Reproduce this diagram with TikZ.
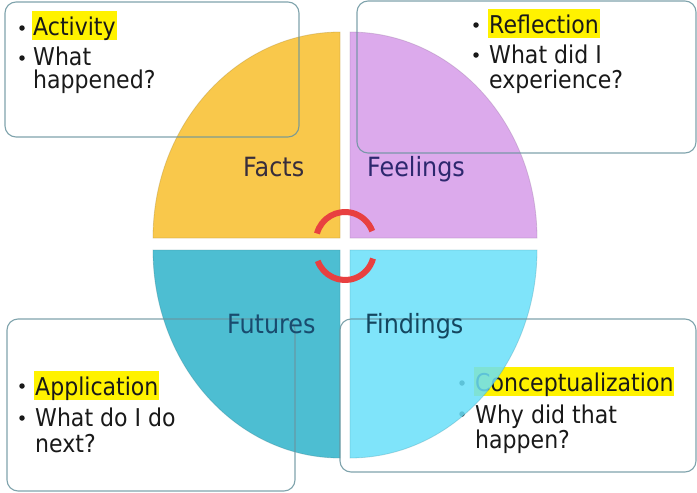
\documentclass[tikz,border=0pt]{standalone}
\usepackage{fontspec}
\setmainfont{DejaVu Sans}[FakeStretch=0.9]
\definecolor{cyel}{RGB}{249,200,75}
\definecolor{cpur}{RGB}{220,170,236}
\definecolor{cteal}{RGB}{77,190,210}
\definecolor{ccyan}{RGB}{105,224,250}
\definecolor{boxline}{RGB}{105,148,158}
\definecolor{txtcol}{RGB}{25,25,25}
\definecolor{arrred}{RGB}{232,64,64}
\definecolor{lfacts}{RGB}{55,45,60}
\definecolor{lfeel}{RGB}{45,40,110}
\definecolor{lfut}{RGB}{25,75,110}
\definecolor{lfind}{RGB}{20,70,95}
\begin{document}
\begin{tikzpicture}[x=1pt,y=-1pt,
  txt/.style={anchor=base west, inner sep=0pt, font=\fontsize{24.5}{28}\selectfont, text=txtcol},
  hl/.style={txt, fill=yellow, inner xsep=1pt, text height=24pt, text depth=5pt},
  lbl/.style={anchor=base west, inner sep=0pt, font=\fontsize{26.5}{30}\selectfont},
  bul/.style={circle, fill=txtcol, inner sep=0pt, minimum size=5.5pt},
  tbox/.style={draw=boxline, line width=1.1pt, rounded corners=11pt, draw opacity=0.85},
  quad/.style={line width=0.8pt, draw opacity=0.35},
  arc/.style={draw=arrred, line width=6pt}]
\useasboundingbox (0,0) rectangle (697,493);
\fill[white] (0,0) rectangle (697,493);

% bottom-right box text (drawn below the translucent cyan quadrant)
\node[bul] (b7) at (462,383) {};
\node[hl] (t7) at (474,391) {Conceptualization};
\node[bul] (b8) at (462,414) {};
\node[txt] (t8) at (475,423) {Why did that};
\node[txt] (t9) at (475,448) {happen?};

% quadrants
\filldraw[quad, fill=cyel, draw=cyel!70!black] (340,238) -- (153,238)
  arc[start angle=180, end angle=270, x radius=187, y radius=206] -- cycle;
\filldraw[quad, fill=cpur, draw=cpur!70!black] (350,238) -- (350,32)
  arc[start angle=270, end angle=360, x radius=187, y radius=206] -- cycle;
\filldraw[quad, fill=cteal, draw=cteal!70!black] (340,250) -- (340,458)
  arc[start angle=90, end angle=180, x radius=187, y radius=208] -- cycle;
\filldraw[quad, fill=ccyan, fill opacity=0.85, draw=ccyan!70!black] (350,250) -- (537,250)
  arc[start angle=0, end angle=90, x radius=187, y radius=208] -- cycle;

% text boxes
\draw[tbox] (5,2) rectangle (299,137);
\draw[tbox] (357,1) rectangle (696,153);
\draw[tbox] (7,319) rectangle (295,491);
\draw[tbox] (340,319) rectangle (696,472);

% top-left
\node[bul] (b1) at (22,28) {};
\node[hl] (t1) at (32,35) {Activity};
\node[bul] (b2) at (22,58) {};
\node[txt] (t2) at (33,65) {What};
\node[txt] (t3) at (33,88) {happened?};
% top-right
\node[bul] (b3) at (476,25) {};
\node[hl] (t4) at (488,33) {Reflection};
\node[bul] (b4) at (476,55) {};
\node[txt] (t5) at (489,63) {What did I};
\node[txt] (t6) at (489,88) {experience?};
% bottom-left
\node[bul] (b5) at (22,386) {};
\node[hl] (t10) at (34,395) {Application};
\node[bul] (b6) at (22,418) {};
\node[txt] (t11) at (35,426) {What do I do};
\node[txt] (t12) at (35,452) {next?};

% quadrant labels
\node[lbl, text=lfacts] (facts) at (243,176) {Facts};
\node[lbl, text=lfeel] (feel) at (367,176) {Feelings};
\node[lbl, text=lfut] (fut) at (227,333) {Futures};
\node[lbl, text=lfind] (find) at (365,333) {Findings};

% central arrows
\coordinate (ctop) at (345,241);
\coordinate (cbot) at (345,251);
\draw[arc] ([shift={(195:29)}]ctop) arc[start angle=195, end angle=340, radius=29];
\draw[arc] ([shift={(160:29)}]cbot) arc[start angle=160, end angle=15, radius=29];
\end{tikzpicture}
\end{document}
